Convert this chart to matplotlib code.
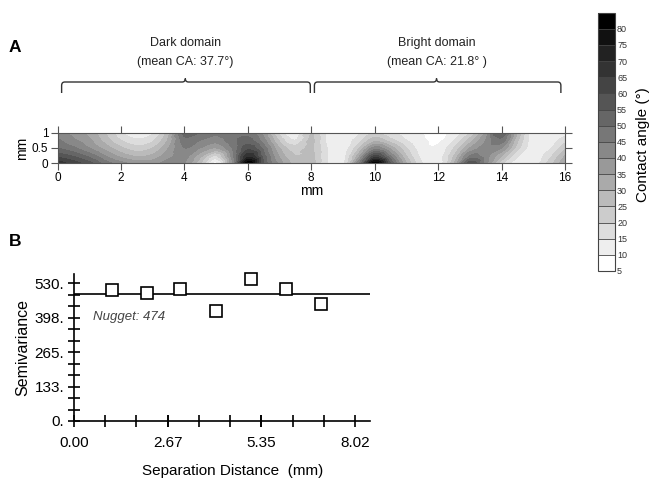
import numpy as np
import matplotlib
matplotlib.use("Agg")
import matplotlib.pyplot as plt
import matplotlib.tri as mtri
from matplotlib.path import Path
from matplotlib.patches import PathPatch
from matplotlib.colors import ListedColormap, BoundaryNorm

plt.rcParams['font.family'] = ['Liberation Sans', 'DejaVu Sans']

# ---------------- data ----------------
grid_x = np.arange(0, 16.01, 0.5)
grid_y = [0.0, 0.25, 0.5, 0.75, 1.0]
ca_y000 = [68, 63, 57, 48, 42, 38, 38, 42, 40, 25, 8, 40, 83, 55, 38, 28, 28, 15, 14, 45, 83, 55, 30, 15, 12, 30, 58, 42, 22, 12, 12, 22, 35]
ca_y025 = [58, 54, 48, 40, 33, 29, 31, 38, 42, 32, 20, 42, 68, 52, 34, 25, 27, 15, 13, 33, 60, 44, 25, 13, 12, 25, 45, 42, 30, 16, 12, 18, 30]
ca_y050 = [50, 46, 40, 33, 26, 22, 25, 35, 45, 40, 35, 45, 58, 48, 30, 22, 26, 15, 12, 24, 42, 33, 20, 12, 11, 20, 35, 42, 40, 22, 12, 14, 24]
ca_y075 = [46, 41, 36, 28, 20, 16, 19, 31, 48, 45, 42, 48, 52, 42, 24, 15, 26, 14, 12, 18, 28, 22, 15, 11, 9, 15, 27, 40, 48, 26, 12, 12, 18]
ca_y100 = [42, 38, 33, 25, 16, 11, 14, 28, 52, 50, 47, 50, 48, 38, 18, 10, 25, 14, 12, 14, 20, 15, 12, 10, 7, 12, 20, 36, 55, 30, 12, 12, 13]
ca_levels = np.arange(5, 86, 5)
cbar_ticks = np.arange(5, 81, 5)

domain_title = ["Dark domain", "Bright domain"]
domain_mean = ["(mean CA: 37.7°)", "(mean CA: 21.8° )"]
domain_start = [0.13, 8.10]
domain_end = [7.97, 15.87]
domain_mid = [4.03, 11.95]

lag = [1.08, 2.08, 3.04, 4.04, 5.06, 6.04, 7.04]
semivariance = [502, 491, 508, 421, 546, 508, 448]
nugget_line = 488
nugget_text = "Nugget: 474"
sv_yticks = [0, 132.6, 265.2, 397.8, 530.4]
sv_ylabels = ["0.", "133.", "265.", "398.", "530."]
sv_xticks = [0.0, 2.673, 5.347, 8.02]
sv_xlabels = ["0.00", "2.67", "5.35", "8.02"]

# ---------------- figure ----------------
W, H = 651, 479
fig = plt.figure(figsize=(W / 100, H / 100), dpi=100)

def fpos(x0, y0, x1, y1):
    return [x0 / W, 1 - y1 / H, (x1 - x0) / W, (y1 - y0) / H]

# colormap: white -> black, 16 bands
n_bands = len(ca_levels) - 1
greys = [str(1 - i / (n_bands - 1)) for i in range(n_bands)]
cmap = ListedColormap(greys)
norm = BoundaryNorm(ca_levels, cmap.N)

# ---- Panel A contour ----
axA = fig.add_axes(fpos(57.5, 132.5, 565, 163.3))
ZZ = np.array([ca_y000, ca_y025, ca_y050, ca_y075, ca_y100], dtype=float)
nx, ny = len(grid_x), len(grid_y)
# work in isotropic coordinates (y stretched x2 so grid cells are square)
XX, YY = np.meshgrid(grid_x, np.array(grid_y) * 2.0)
tris = []
for j in range(ny - 1):
    for i in range(nx - 1):
        a = j * nx + i
        b = a + 1
        c = a + nx
        d = c + 1
        tris.append([a, b, d])
        tris.append([a, d, c])
tri = mtri.Triangulation(XX.ravel(), YY.ravel(), np.array(tris))
interp = mtri.CubicTriInterpolator(tri, ZZ.ravel(), kind='geom')
refiner = mtri.UniformTriRefiner(tri)
tri_f, z_f = refiner.refine_field(ZZ.ravel(), triinterpolator=interp, subdiv=3)
z_f = np.clip(z_f, 5.01, 84.99)
tri_plot = mtri.Triangulation(tri_f.x, tri_f.y / 2.0, tri_f.triangles)
axA.tricontourf(tri_plot, z_f, levels=ca_levels, cmap=cmap, norm=norm)
axA.set_xlim(0, 16)
axA.set_ylim(0, 1)
axA.set_xticks(np.arange(0, 17, 2))
axA.set_yticks([0, 0.5, 1])
axA.set_yticklabels(["0", "0.5", "1"])
axA.tick_params(direction='out', length=5, width=0.8, color='#555555',
                labelsize=8.5, top=True, right=True, pad=1.5)
for sp in axA.spines.values():
    sp.set_color('#555555')
    sp.set_linewidth(0.8)
axA.set_xlabel("mm", fontsize=10, labelpad=0)
axA.set_ylabel("mm", fontsize=10, labelpad=2)

# ---- braces ----
axBr = fig.add_axes(fpos(57.5, 70, 565, 100))
axBr.set_xlim(0, 16)
axBr.set_ylim(100, 70)
axBr.axis('off')
r = 0.1
for xa, xb, xm, t1, t2 in zip(domain_start, domain_end, domain_mid, domain_title, domain_mean):
    verts = [(xa, 93), (xa, 85.5), (xa, 82), (xa + r, 82), (xm - r, 82),
             (xm, 82), (xm, 78.5), (xm, 82), (xm + r, 82), (xb - r, 82),
             (xb, 82), (xb, 85.5), (xb, 93)]
    codes = [Path.MOVETO, Path.LINETO, Path.CURVE3, Path.CURVE3, Path.LINETO,
             Path.CURVE3, Path.CURVE3, Path.CURVE3, Path.CURVE3, Path.LINETO,
             Path.CURVE3, Path.CURVE3, Path.LINETO]
    axBr.add_patch(PathPatch(Path(verts, codes), fill=False, lw=1.0, ec='#333333'))
    xc = (57.5 + xm * (565 - 57.5) / 16) / W
    fig.text(xc, 1 - 43 / H, t1, ha='center', va='center', fontsize=9, color='#222222')
    fig.text(xc, 1 - 62 / H, t2, ha='center', va='center', fontsize=9, color='#222222')

fig.text(9 / W, 1 - 48 / H, "A", fontsize=12.5, fontweight='bold', va='center')
fig.text(9 / W, 1 - 241 / H, "B", fontsize=12.5, fontweight='bold', va='center')

# ---- colorbar ----
axC = fig.add_axes(fpos(598, 12.7, 615, 271))
cb = fig.colorbar(plt.cm.ScalarMappable(norm=norm, cmap=cmap), cax=axC,
                  boundaries=ca_levels, ticks=cbar_ticks, drawedges=True)
cb.minorticks_off()
cb.outline.set_edgecolor('#444444')
cb.outline.set_linewidth(0.8)
cb.dividers.set_color('#444444')
cb.dividers.set_linewidth(0.6)
axC.tick_params(which='both', length=0, labelsize=6.5, pad=1.5, labelcolor='#333333')
axC.set_yticklabels([str(t) for t in cbar_ticks])
fig.text(643 / W, 1 - 145 / H, "Contact angle (°)", rotation=90, fontsize=11,
         ha='center', va='center')

# ---- Panel B semivariogram ----
axB = fig.add_axes(fpos(74, 274, 370, 421))
axB.plot(lag, semivariance, ls='none', marker='s', ms=8.5, mfc='white',
         mec='black', mew=1.2, zorder=3, clip_on=False)
axB.axhline(nugget_line, color='black', lw=1.2, zorder=2)
axB.text(0.54, 400, nugget_text, fontsize=9.5, style='italic', color='#444444',
         va='center')
axB.set_xlim(0, 8.45)
axB.set_ylim(0, 565)
axB.spines['top'].set_visible(False)
axB.spines['right'].set_visible(False)
for sp in axB.spines.values():
    sp.set_linewidth(1.2)
axB.set_xticks(sv_xticks)
axB.set_xticklabels(sv_xlabels)
axB.set_xticks(np.arange(0, 8.5, 8.02 / 9), minor=True)
axB.set_yticks(sv_yticks)
axB.set_yticklabels(sv_ylabels)
axB.set_yticks(np.arange(0, 560, 530.4 / 12), minor=True)
axB.tick_params(which='both', direction='inout', length=8, width=1.2,
                labelsize=11, pad=3)
axB.tick_params(axis='x', which='both', pad=7)
axB.set_ylabel("Semivariance", fontsize=11.5, labelpad=3)
fig.text(233 / W, 1 - 471 / H, "Separation Distance  (mm)", fontsize=11,
         ha='center', va='center')

fig.savefig("out.png", dpi=100)
